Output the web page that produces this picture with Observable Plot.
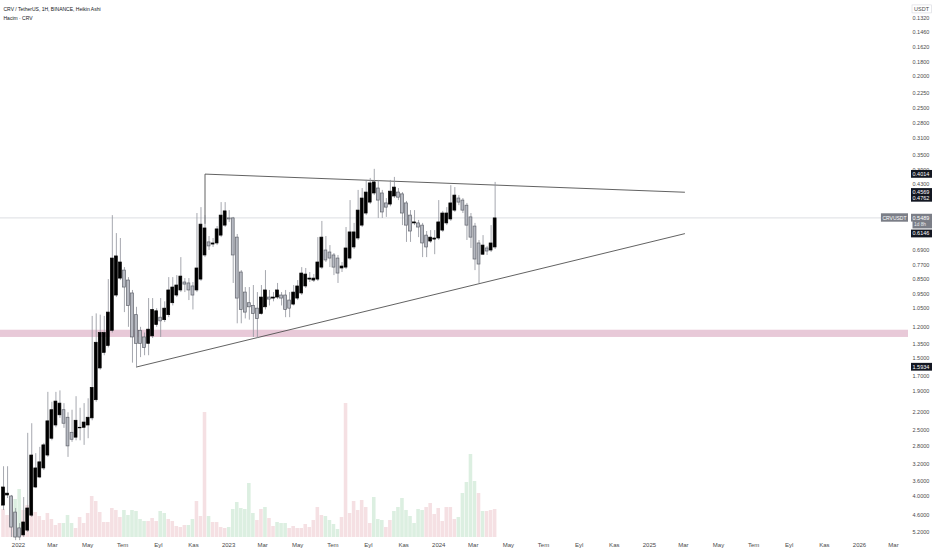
<!DOCTYPE html>
<html><head><meta charset="utf-8">
<script src="https://cdn.jsdelivr.net/npm/d3@7"></script>
<script src="https://cdn.jsdelivr.net/npm/@observablehq/plot@0.6"></script>
<style>
body{margin:0;background:#fff;}
#wrap{position:relative;width:932px;height:550px;overflow:hidden;font-family:"Liberation Sans",Arial,sans-serif;}
#wrap svg{position:absolute;left:0;top:0;}
</style></head><body><div id="wrap"></div>
<script>
// ---- data (weekly Heikin Ashi candles, CRV/USDT) ----
const firstWeek = "2021-12-06";
const haOpen = [4.29,3.99,4.02,4.51,5.05,5.31,5.13,4.61,3.77,3.51,
3.29,3.00,2.66,2.42,2.25,2.17,2.29,2.55,2.64,2.47,
2.46,2.42,2.30,2.02,1.61,1.44,1.37,1.23,0.956,0.847,
0.800,0.859,0.942,1.10,1.23,1.29,1.35,1.28,1.18,1.12,
1.14,1.10,1.01,0.956,0.922,0.871,0.877,0.896,0.922,0.853,
0.718,0.654,0.664,0.659,0.623,0.580,0.551,0.551,0.632,0.811,
0.936,1.01,1.03,1.05,1.09,1.04,0.970,0.977,0.970,0.956,
0.956,0.991,1.02,0.977,0.942,0.896,0.853,0.859,0.853,0.783,
0.693,0.703,0.718,0.734,0.788,0.783,0.734,0.678,0.636,0.580,
0.532,0.492,0.461,0.445,0.461,0.495,0.499,0.471,0.458,0.464,
0.495,0.540,0.571,0.571,0.580,0.623,0.650,0.641,0.636,0.601,
0.571,0.555,0.521,0.478,0.485,0.503,0.547,0.584,0.659,0.714,
0.683,0.693,0.678];
const haHigh = [4.44,4.08,5.39,5.51,5.51,5.39,5.20,4.67,3.80,3.54,
3.34,3.04,2.70,2.46,2.30,2.47,3.04,2.73,2.70,2.70,
2.79,2.66,2.34,2.05,1.63,1.47,1.39,1.25,0.970,0.859,
1.08,1.20,1.55,1.60,1.49,1.47,1.47,1.30,1.20,1.29,
1.16,1.12,1.03,0.970,0.936,0.936,0.991,1.06,0.936,0.865,
0.729,0.693,0.678,0.669,0.632,0.588,0.567,0.877,1.17,1.17,
1.13,1.14,1.29,1.30,1.10,1.06,1.03,1.00,0.984,1.03,
1.12,1.12,1.03,0.991,0.956,0.909,0.871,0.871,0.865,0.794,
0.755,0.783,0.829,0.877,0.811,0.794,0.744,0.688,0.645,0.588,
0.540,0.499,0.468,0.551,0.551,0.547,0.507,0.478,0.485,0.580,
0.654,0.654,0.580,0.632,0.729,0.729,0.659,0.714,0.645,0.609,
0.580,0.563,0.528,0.503,0.532,0.645,0.683,0.800,0.877,0.718,
0.718,0.703,0.688];
const haLow = [3.25,3.25,3.99,4.38,4.88,4.05,2.56,2.39,2.96,2.83,
2.75,1.91,2.05,1.91,1.89,2.07,2.21,2.17,1.97,2.14,
2.07,2.00,1.11,1.09,1.10,1.11,0.853,0.540,0.614,0.636,
0.783,0.841,0.922,1.04,1.20,1.25,0.977,0.977,1.05,0.977,
1.00,0.841,0.841,0.829,0.729,0.847,0.847,0.871,0.532,0.510,
0.540,0.627,0.636,0.584,0.492,0.492,0.521,0.547,0.618,0.800,
0.903,0.903,0.890,0.936,0.890,0.800,0.922,0.936,0.877,0.936,
0.922,0.936,0.890,0.859,0.783,0.788,0.811,0.823,0.632,0.563,
0.627,0.669,0.708,0.718,0.755,0.588,0.485,0.571,0.451,0.445,
0.420,0.414,0.388,0.420,0.451,0.478,0.420,0.411,0.445,0.458,
0.488,0.521,0.521,0.559,0.571,0.605,0.601,0.601,0.485,0.524,
0.510,0.436,0.442,0.468,0.478,0.495,0.532,0.571,0.645,0.623,
0.673,0.580,0.426];
const haClose = [3.77,3.94,5.02,5.39,5.39,4.84,4.38,3.00,3.29,3.15,
2.79,2.35,2.17,2.04,2.07,2.39,2.81,2.68,2.34,2.46,
2.37,2.29,1.85,1.34,1.25,1.25,1.08,0.734,0.723,0.755,
0.903,1.03,1.29,1.35,1.35,1.39,1.22,1.06,1.07,1.15,
1.05,0.922,0.903,0.890,0.835,0.884,0.922,0.956,0.788,0.576,
0.592,0.673,0.659,0.596,0.540,0.524,0.555,0.718,0.977,1.06,
1.08,1.04,1.09,1.13,0.970,0.922,0.984,0.970,0.922,0.977,
1.06,1.05,0.936,0.896,0.817,0.823,0.847,0.847,0.755,0.632,
0.744,0.734,0.783,0.817,0.777,0.683,0.609,0.609,0.521,0.478,
0.458,0.429,0.426,0.485,0.528,0.510,0.455,0.442,0.475,0.532,
0.580,0.605,0.567,0.588,0.659,0.678,0.632,0.636,0.567,0.532,
0.532,0.495,0.468,0.492,0.521,0.580,0.632,0.739,0.766,0.669,
0.698,0.659,0.551];
// weekly volume, millions of CRV
const volumeM = [112,88,160,152,192,108,128,96,100,84,
68,96,72,48,56,56,88,56,36,80,
56,96,164,144,100,60,60,116,108,80,
108,88,108,104,72,64,64,76,64,104,
96,72,64,44,40,48,48,72,144,84,
500,84,60,60,40,36,40,112,140,116,
112,216,96,68,112,120,76,44,60,56,
56,36,44,36,36,52,40,68,120,88,
84,68,52,32,80,536,96,144,108,148,
120,56,160,72,68,40,68,104,120,156,
108,84,56,112,108,120,136,92,116,64,
120,120,72,80,176,220,332,224,176,104,
104,108,112];
const volumeUp = [0,0,0,1,1,0,0,0,0,0,
0,0,0,0,0,1,1,1,0,0,
0,0,0,0,0,0,0,0,0,0,
1,1,1,1,1,1,0,0,0,1,
1,0,0,0,0,0,1,1,0,0,
0,1,0,0,0,0,1,1,1,1,
1,1,1,0,0,1,0,0,1,1,
1,0,0,0,0,0,0,0,0,0,
1,1,1,1,0,0,0,0,0,0,
0,0,1,1,1,0,0,1,1,1,
1,1,1,1,1,0,0,0,0,0,
0,0,0,1,1,1,1,1,0,1,
0,0,0];
const lastPrice = 0.5489;
const countdown = "1d 8h";
const zone = {low: 1.225, high: 1.29};
const upperLine = [{date:"2022-11-21", price:0.571},{date:"2022-11-21", price:0.4014},{date:"2025-03-03", price:0.4569}];
const lowerLine = [{date:"2022-07-25", price:1.5934},{date:"2025-03-03", price:0.6146}];
const priceLabels = [
  {value:0.4014, bg:"#131722"},{value:0.4569, bg:"#131722"},{value:0.4762, bg:"#131722"},
  {value:0.5489, bg:"#7b7e87"},{value:0.6146, bg:"#131722"},{value:1.5934, bg:"#131722"}];
const yTicks = [0.132,0.146,0.162,0.18,0.2,0.225,0.25,0.28,0.31,0.35,0.39,0.43,0.69,0.77,0.85,0.95,1.05,1.2,1.35,1.5,1.7,1.9,2.2,2.5,2.8,3.2,3.6,4.0,4.6,5.2];
const monthNames = ["Oca","Şub","Mar","Nis","May","Haz","Tem","Ağu","Eyl","Eki","Kas","Ara"];
const titleLines = ["CRV / TetherUS, 1H, BINANCE, Heikin Ashi","Hacim · CRV"];

// ---- build ----
const W = 932, H = 550, DAY = 864e5;
const t0 = Date.parse(firstWeek);
const candles = haOpen.map((o,i)=>({date:new Date(t0+i*7*DAY), open:o, high:haHigh[i], low:haLow[i], close:haClose[i]}));
const vols = volumeM.map((v,i)=>({date:new Date(t0+i*7*DAY), volume:v, up:volumeUp[i]}));
const parse = d=>({...d, date:new Date(d.date+"T00:00:00Z")});
const up = upperLine.map(parse), lo = lowerLine.map(parse);
const xDomain = [new Date("2021-11-30T17:30:00Z"), new Date("2026-03-27T02:00:00Z")];
const xTicks = d3.utcMonth.every(2).range(new Date("2022-01-01"), new Date("2026-03-02"));
const font = "'Liberation Sans', Arial, sans-serif";

const volPlot = Plot.plot({
  width:W, height:H, marginLeft:0, marginRight:24, marginTop:0, marginBottom:10,
  style:{background:"transparent"},
  x:{type:"utc", domain:xDomain, axis:null},
  y:{domain:[0,600], range:[537,387], axis:null},
  marks:[
    Plot.rect(vols, {x1:d=>new Date(+d.date-3.1*DAY), x2:d=>new Date(+d.date+3.1*DAY), y1:0, y2:"volume",
      fill:d=>d.up?"#dcefe1":"#f5e0e3"})
  ]
});

const main = Plot.plot({
  width:W, height:H, marginLeft:0, marginRight:24, marginTop:0, marginBottom:10,
  style:{background:"transparent", fontFamily:font},
  x:{type:"utc", domain:xDomain},
  y:{type:"log", domain:[0.132,5.2], range:[18,532]},
  marks:[
    Plot.rect([zone], {y1:"low", y2:"high", fill:"#e8c9d8"}),
    Plot.ruleY([lastPrice], {stroke:"#d3d5da", strokeWidth:0.8}),
    Plot.line(up, {x:"date", y:"price", stroke:"#505050", strokeWidth:0.9}),
    Plot.line(lo, {x:"date", y:"price", stroke:"#505050", strokeWidth:0.9}),
    Plot.ruleX(candles, {x:"date", y1:"low", y2:"high", stroke:"#8f929a", strokeWidth:0.8}),
    Plot.rect(candles, {x1:d=>new Date(+d.date-2.5*DAY), x2:d=>new Date(+d.date+2.5*DAY), y1:"open", y2:"close",
      fill:d=>d.close>=d.open?"#b6b9c1":"#000000", stroke:d=>d.close>=d.open?"#60636c":"#000000", strokeWidth:0.7}),
    Plot.axisY(yTicks, {anchor:"right", tickSize:0, tickPadding:4, tickFormat:d3.format(".4f"), fontSize:5.5, fill:"#4a4a4a", label:null}),
    Plot.axisX(xTicks, {anchor:"bottom", tickSize:0, tickPadding:2, fontSize:6, fill:"#4a4a4a", label:null,
      tickFormat:d=>d.getUTCMonth()===0?String(d.getUTCFullYear()):monthNames[d.getUTCMonth()]}),
    Plot.text([countdown], {y:[lastPrice], text:d=>d, frameAnchor:"right", dx:5.5, dy:6.5, textAnchor:"start", fill:"#e8e9ec", fontSize:4.8, className:"cdlabel"}),
    Plot.text(priceLabels, {y:"value", text:d=>d.value.toFixed(4), frameAnchor:"right", dx:4, textAnchor:"start", fill:"#ffffff", fontSize:5.5, className:"plabel"}),
    Plot.text(["CRVUSDT"], {y:[lastPrice], text:d=>d, frameAnchor:"right", dx:-2, textAnchor:"end", fill:"#ffffff", fontSize:5, className:"symlabel"}),
    Plot.text([titleLines[0]], {frameAnchor:"top-left", dx:3, dy:7, textAnchor:"start", fontSize:5, fill:"#131722"}),
    Plot.text([titleLines[1]], {frameAnchor:"top-left", dx:3, dy:16, textAnchor:"start", fontSize:5, fill:"#131722"}),
    Plot.text(["USDT"], {frameAnchor:"top-right", dx:13, dy:6.5, textAnchor:"middle", fontSize:5.5, fill:"#4a4a4a", className:"unit"})
  ]
});

const wrap = document.getElementById("wrap");
wrap.appendChild(volPlot);
wrap.appendChild(main);

// label boxes: all boxes of a group go beneath all of its texts
function boxes(sel, fills, padX, padY, stretchRight, stroke){
  d3.select(main).selectAll(sel).each(function(_,i){
    const b = this.getBBox();
    const left = b.x-padX;
    const g = this.parentNode;
    const r = d3.select(g).insert("rect", ":first-child")
      .attr("x", left).attr("y", b.y-padY)
      .attr("width", stretchRight ? (W - left) : b.width+2*padX)
      .attr("height", b.height+2*padY)
      .attr("fill", fills[i % fills.length]);
    if (stroke) r.attr("stroke", stroke).attr("stroke-width", 0.6);
    const tr = this.getAttribute("transform");
    if (tr) r.attr("transform", tr);
  });
}
boxes("g.cdlabel text", ["#7b7e87"], 1.5, 1.5, true);
boxes("g.plabel text", priceLabels.map(d=>d.bg), 1.5, 0.9, true);
boxes("g.symlabel text", ["#7b7e87"], 1.5, 1.2, false);
boxes("g.unit text", ["#ffffff"], 2, 1, false, "#d6d8de");
</script></body></html>
